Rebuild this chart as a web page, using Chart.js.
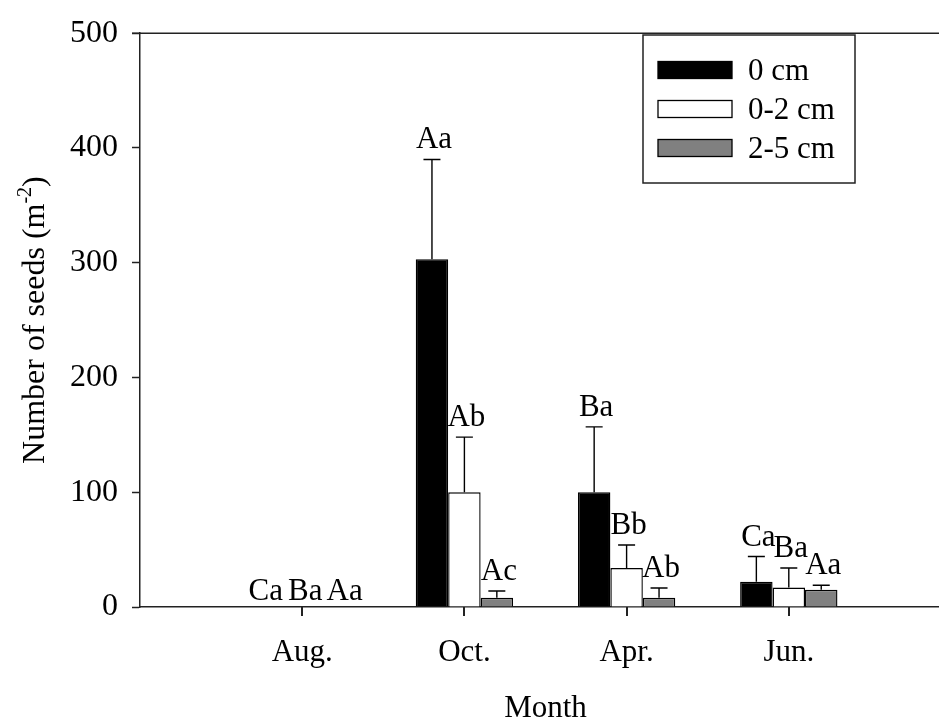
<!DOCTYPE html>
<html>
<head>
<meta charset="utf-8">
<script src="https://cdn.jsdelivr.net/npm/chart.js@4"></script>
<style>
  html, body { margin: 0; padding: 0; background: #fff; overflow: hidden; }
  #wrap { width: 970px; height: 720px; }
  canvas { display: block; }
</style>
</head>
<body>
<div id="wrap"><canvas id="myChart" width="970" height="720"></canvas></div>
<script>
// blank labels at both ends give the empty space left of Aug. and right of Jun.
const months = ['', 'Aug.', 'Oct.', 'Apr.', 'Jun.', ''];
const seriesNames = ['0 cm', '0-2 cm', '2-5 cm'];

const seeds0 = [null, 0, 303, 100, 22, null];
const seeds02 = [null, 0, 100, 34, 17, null];
const seeds25 = [null, 0, 8, 8, 15, null];

// upper error (SE) for each bar
const err0 = [null, 0, 87, 57, 22, null];
const err02 = [null, 0, 48, 20, 17, null];
const err25 = [null, 0, 6, 8.5, 4, null];

// significance letters
const letters0 = ['', 'Ca', 'Aa', 'Ba', 'Ca', ''];
const letters02 = ['', 'Ba', 'Ab', 'Bb', 'Ba', ''];
const letters25 = ['', 'Aa', 'Ac', 'Ab', 'Aa', ''];

const yTicks = [0, 100, 200, 300, 400, 500];

const serif = '"Liberation Serif", "Times New Roman", serif';

const errorsAndLetters = {
  id: 'errorsAndLetters',
  afterDatasetsDraw(chart) {
    const ctx = chart.ctx;
    const y = chart.scales.y;
    ctx.save();
    chart.data.datasets.forEach(function (ds, di) {
      const meta = chart.getDatasetMeta(di);
      meta.data.forEach(function (bar, i) {
        if (ds.data[i] == null) return;
        const e = ds.errors[i];
        let topY = y.getPixelForValue(ds.data[i]);
        let gap = 7;
        if (e) {
          const capY = y.getPixelForValue(ds.data[i] + e);
          ctx.strokeStyle = '#000';
          ctx.lineWidth = 1.4;
          ctx.beginPath();
          ctx.moveTo(bar.x, topY);
          ctx.lineTo(bar.x, capY);
          ctx.moveTo(bar.x - 8.5, capY);
          ctx.lineTo(bar.x + 8.5, capY);
          ctx.stroke();
          topY = capY;
          gap = 11;
        }
        ctx.fillStyle = '#000';
        ctx.font = '31px ' + serif;
        ctx.textAlign = 'center';
        ctx.textBaseline = 'alphabetic';
        // letters in the empty Aug. group sit a little wider apart
        const spread = e ? 2 : (di - 1) * 7 + 3;
        ctx.fillText(ds.letters[i], bar.x + spread, topY - gap);
      });
    });
    ctx.restore();
  },
  afterDraw(chart) {
    const ctx = chart.ctx;
    const area = chart.chartArea;
    const xs = chart.scales.x;
    ctx.save();
    ctx.strokeStyle = '#222';
    ctx.lineWidth = 1.5;
    // top frame line
    ctx.beginPath();
    ctx.moveTo(area.left - 8, area.top);
    ctx.lineTo(chart.width, area.top);
    ctx.stroke();

    // x tick marks under the month labels
    ctx.fillStyle = '#222';
    const step = (xs.right - xs.left) / (months.length - 1);
    for (let i = 1; i < months.length - 1; i++) {
      const px = Math.round(xs.left + step * i);
      ctx.fillRect(px - 1, Math.round(xs.top), 2, 9);
    }

    // y axis title with superscript
    ctx.translate(44, (area.top + area.bottom) / 2);
    ctx.rotate(-Math.PI / 2);
    ctx.fillStyle = '#000';
    ctx.textBaseline = 'alphabetic';
    const a = 'Number of seeds (m';
    const b = ')';
    ctx.font = '20px ' + serif;
    const supW = ctx.measureText('-2').width;
    ctx.font = '32px ' + serif;
    const total = ctx.measureText(a).width + supW + ctx.measureText(b).width;
    let tx = -total / 2;
    ctx.textAlign = 'left';
    ctx.fillText(a, tx, 0);
    tx += ctx.measureText(a).width;
    ctx.font = '20px ' + serif;
    ctx.fillText('-2', tx, -13);
    tx += supW;
    ctx.font = '32px ' + serif;
    ctx.fillText(b, tx, 0);
    ctx.restore();

    // legend box
    ctx.save();
    ctx.strokeStyle = '#222';
    ctx.lineWidth = 1.5;
    ctx.fillStyle = '#fff';
    ctx.fillRect(643, 35, 212, 148);
    ctx.strokeRect(643, 35, 212, 148);
    chart.data.datasets.forEach(function (ds, i) {
      const cy = 70 + i * 39;
      ctx.fillStyle = ds.backgroundColor;
      ctx.fillRect(658, cy - 8.5, 74, 17);
      ctx.strokeStyle = '#000';
      ctx.lineWidth = 1.3;
      ctx.strokeRect(658, cy - 8.5, 74, 17);
      ctx.fillStyle = '#000';
      ctx.font = '31px ' + serif;
      ctx.textAlign = 'left';
      ctx.textBaseline = 'alphabetic';
      ctx.fillText(ds.label, 748, cy + 10);
    });
    ctx.restore();
  }
};

const data = {
  labels: months,
  datasets: [{
    label: seriesNames[0],
    data: seeds0,
    errors: err0,
    letters: letters0,
    backgroundColor: '#000000',
    borderColor: '#000000',
    borderWidth: 1.4
  }, {
    label: seriesNames[1],
    data: seeds02,
    errors: err02,
    letters: letters02,
    backgroundColor: '#ffffff',
    borderColor: '#000000',
    borderWidth: 1.4
  }, {
    label: seriesNames[2],
    data: seeds25,
    errors: err25,
    letters: letters25,
    backgroundColor: '#808080',
    borderColor: '#000000',
    borderWidth: 1.4
  }]
};

const config = {
  type: 'bar',
  data: data,
  options: {
    responsive: false,
    animation: false,
    devicePixelRatio: 1,
    categoryPercentage: 0.6,
    barPercentage: 1,
    layout: {
      padding: { top: 23, right: 0, left: 0, bottom: 0 }
    },
    plugins: {
      legend: { display: false },
      tooltip: { enabled: false }
    },
    scales: {
      x: {
        offset: false,
        border: { color: '#222', width: 1.5 },
        grid: {
          offset: false,
          drawOnChartArea: false,
          tickLength: 8,
          tickColor: 'rgba(0,0,0,0)'
        },
        ticks: {
          color: '#000',
          padding: 19,
          maxRotation: 0,
          autoSkip: false,
          font: { family: serif, size: 31 }
        },
        title: {
          display: true,
          text: 'Month',
          color: '#000',
          font: { family: serif, size: 31 },
          padding: { top: 0, bottom: -7 }
        },
        afterFit: function (scale) { scale.height = 113; }
      },
      y: {
        min: 0,
        max: 500,
        afterBuildTicks: function (scale) {
          scale.ticks = yTicks.map(function (v) { return { value: v }; });
        },
        border: { color: '#222', width: 1.5 },
        grid: {
          drawOnChartArea: false,
          tickLength: 8,
          tickWidth: 1.5,
          tickColor: '#222'
        },
        ticks: {
          color: '#000',
          padding: 14,
          font: { family: serif, size: 32 }
        },
        afterFit: function (scale) { scale.width = 140; }
      }
    }
  },
  plugins: [errorsAndLetters]
};

const myChart = new Chart(
  document.getElementById('myChart'),
  config
);
</script>
</body>
</html>
